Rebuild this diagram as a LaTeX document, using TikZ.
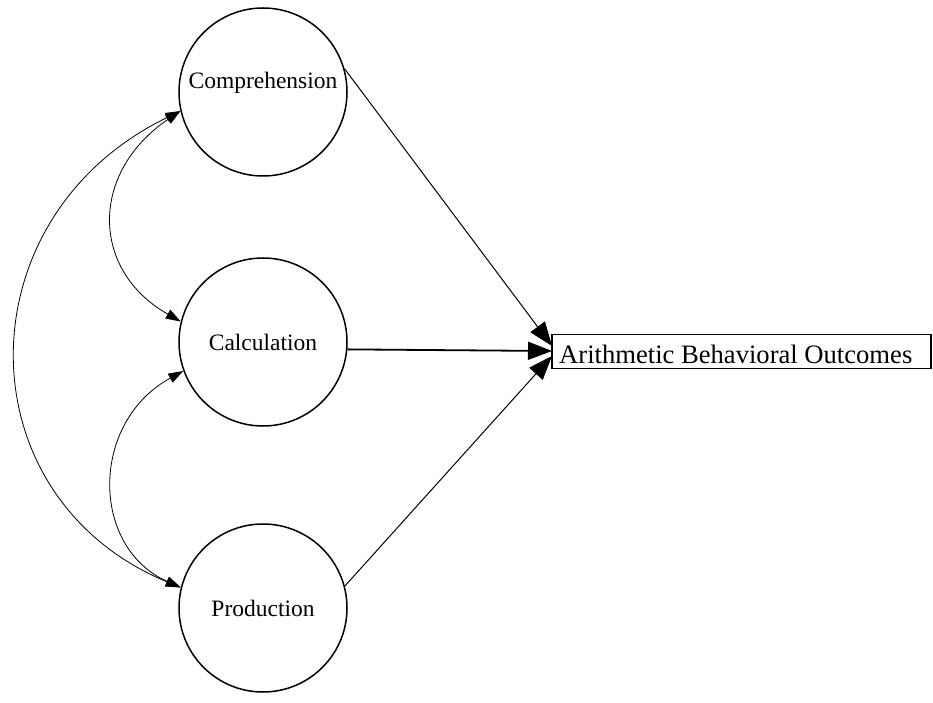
\documentclass[tikz,border=0pt]{standalone}
\usepackage{fontspec}
\setmainfont{Liberation Serif}
\usetikzlibrary{arrows.meta}
\begin{document}
\begin{tikzpicture}[x=1pt,y=1pt,
  latent/.style={circle,draw,line width=1.5pt,minimum size=168pt,inner sep=0pt,font=\fontsize{23.5}{28}\selectfont},
  lbl/.style={inner sep=0pt,font=\fontsize{23.5}{28}\selectfont},
  observed/.style={rectangle,draw,line width=1.5pt,minimum width=379pt,minimum height=34pt,inner sep=0pt},
  path/.style={-{Triangle[length=24pt,width=18pt]},line width=1pt},
  cov/.style={{Triangle[length=15pt,width=10pt]}-{Triangle[length=15pt,width=10pt]},line width=0.8pt}]
\useasboundingbox (0,0) rectangle (933,702);
\node[latent] (comp) at (263,610) {};
\node[lbl] (comptext) at (263,619) {Comprehension};
\node[latent] (calc) at (263,360) {Calculation};
\node[latent] (prod) at (263,94) {Production};
\node[observed] (out) at (741.5,350.5) {};
\node[anchor=west,font=\fontsize{26.6}{30}\selectfont,inner sep=0pt] (outtext) at (559,347.5) {Arithmetic Behavioral Outcomes};
\coordinate (tip) at (552,351);
\draw[path] (comp.16) -- ([yshift=5pt]tip);
\draw[path,line width=1.8pt] (calc.-5) -- (tip);
\draw[path] (prod.15) -- ([yshift=-5pt]tip);
\draw[cov] (comp.193) .. controls (90,530) and (90,432) .. (calc.166);
\draw[cov] (calc.200) .. controls (90,280) and (90,155) .. (prod.166);
\draw[cov] (comp.193) .. controls (-38,485) and (-38,205) .. (prod.166);
\end{tikzpicture}
\end{document}
